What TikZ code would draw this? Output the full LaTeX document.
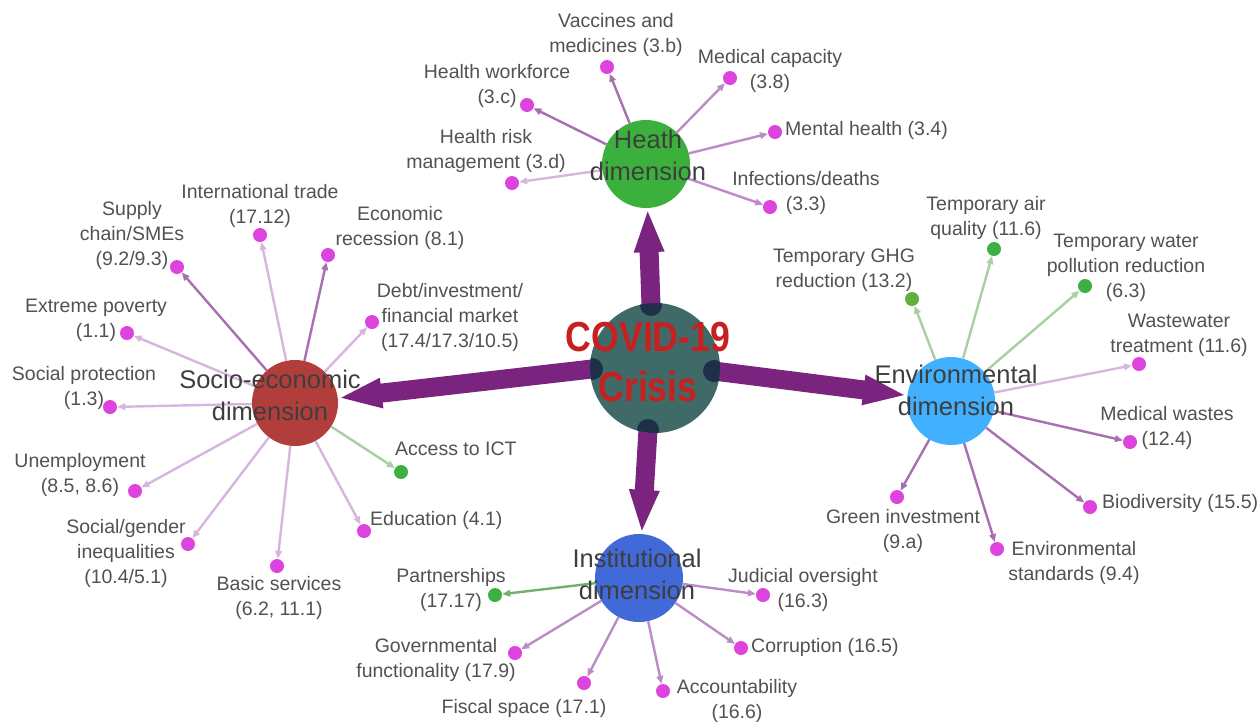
\documentclass[tikz,border=0pt]{standalone}
\usepackage{fontspec}
\setmainfont{Liberation Sans}
\usepackage{graphicx}
\usetikzlibrary{arrows.meta}
\definecolor{lblgray}{RGB}{82,82,82}
\definecolor{dimgray}{RGB}{62,62,62}
\definecolor{dotmag}{RGB}{221,68,221}
\definecolor{dotgrn}{RGB}{60,176,67}
\definecolor{dotolive}{RGB}{96,176,64}
\definecolor{edark}{RGB}{168,112,178}
\definecolor{emid}{RGB}{188,140,198}
\definecolor{elight}{RGB}{214,182,222}
\definecolor{egreenl}{RGB}{168,208,162}
\definecolor{egreend}{RGB}{112,178,104}
\definecolor{bigpurple}{RGB}{122,36,128}
\definecolor{ccenter}{RGB}{63,106,104}
\definecolor{cblob}{RGB}{30,48,72}
\definecolor{chealth}{RGB}{60,176,60}
\definecolor{csocio}{RGB}{178,62,60}
\definecolor{cenv}{RGB}{64,176,255}
\definecolor{cinst}{RGB}{65,105,215}
\definecolor{covidred}{RGB}{200,32,32}
\begin{document}
\begin{tikzpicture}[x=1pt,y=-1pt,
  dimnode/.style={circle, inner sep=0pt, minimum size=88pt},
  dotm/.style={circle, fill=dotmag, inner sep=0pt, minimum size=14pt},
  dotg/.style={circle, fill=dotgrn, inner sep=0pt, minimum size=14pt},
  dotgo/.style={circle, fill=dotolive, inner sep=0pt, minimum size=14pt},
  lbl/.style={font=\fontsize{19.5}{25}\selectfont, text=lblgray, align=center, inner sep=0pt, anchor=north},
  lblw/.style={font=\fontsize{19.5}{25}\selectfont, text=lblgray, inner sep=0pt, anchor=base west},
  dimlbl/.style={font=\fontsize{25.5}{32}\selectfont, text=dimgray, align=center, inner sep=0pt, anchor=north},
  edge/.style={line width=2.4pt, -{Triangle[length=8pt,width=6.5pt]}},
  edgedark/.style={edge, draw=edark, color=edark},
  edgemid/.style={edge, draw=emid, color=emid},
  edgelight/.style={edge, draw=elight, color=elight},
  edgegl/.style={edge, draw=egreenl, color=egreenl},
  edgegd/.style={edge, draw=egreend, color=egreend},
  bigarrow/.style={line width=19pt, draw=bigpurple, color=bigpurple, -{Triangle[length=44pt,width=27pt]}}
]
\useasboundingbox (0,0) rectangle (1260,721);
\fill[white] (0,0) rectangle (1260,721);

% dimension circles
\node[dimnode, fill=chealth, minimum size=88pt] (H) at (646,164) {};
\node[dimnode, fill=csocio, minimum size=86pt] (S) at (295,403) {};
\node[dimnode, fill=cenv, minimum size=88pt] (E) at (951,401) {};
\node[dimnode, fill=cinst, minimum size=88pt] (I) at (639,578) {};

% big arrows
\coordinate (cT) at (651,305);
\coordinate (cB) at (648,430);
\coordinate (cL) at (592,369);
\coordinate (cR) at (714,371);
\draw[bigarrow] (cT) -- (H);
\draw[bigarrow] (cB) -- (I);
\draw[bigarrow] (cL) -- (S);
\draw[bigarrow] (cR) -- (E);

% center circle
\node[circle, fill=ccenter, inner sep=0pt, minimum size=130pt] (C) at (655,368) {};
\begin{scope}
\clip (655,368) circle (65);
\fill[cblob] (cT) circle (11);
\fill[cblob] (cB) circle (11);
\fill[cblob] (cL) circle (11);
\fill[cblob] (cR) circle (11);
\end{scope}
\node[font=\fontsize{42}{50}\selectfont\bfseries, text=covidred, align=center, inner sep=0pt, anchor=north] (Ct) at (648,321.5) {\scalebox{0.85}[1]{COVID-19}\\\scalebox{0.85}[1]{Crisis}};

% ---------- Health leaves
\node[dotm] (hv) at (607,67) {};
\node[dotm] (hm) at (730,78) {};
\node[dotm] (hmh) at (775,132) {};
\node[dotm] (hi) at (770,207) {};
\node[dotm] (hw) at (527,105) {};
\node[dotm] (hr) at (512,183) {};
\draw[edgedark] (H) -- (hv);
\draw[edgemid] (H) -- (hm);
\draw[edgemid] (H) -- (hmh);
\draw[edgemid] (H) -- (hi);
\draw[edgedark] (H) -- (hw);
\draw[edgelight] (H) -- (hr);
\node[lbl] (hvl) at (616,12.7) {Vaccines and\\medicines (3.b)};
\node[lbl] (hml) at (770,48.7) {Medical capacity\\(3.8)};
\node[lblw] (hmhl) at (785,135) {Mental health (3.4)};
\node[lbl] (hil) at (806,170.7) {Infections/deaths\\(3.3)};
\node[lbl] (hwl) at (497,63.7) {Health workforce\\(3.c)};
\node[lbl] (hrl) at (486,128.7) {Health risk\\management (3.d)};

% ---------- Socio-economic leaves
\node[dotm] (ss) at (177,267) {};
\node[dotm] (st) at (260,235) {};
\node[dotm] (se) at (328,255) {};
\node[dotm] (sd) at (372,322) {};
\node[dotm] (sp) at (127,333) {};
\node[dotm] (sr) at (110,407) {};
\node[dotm] (su) at (135,491) {};
\node[dotm] (sg) at (188,544) {};
\node[dotm] (sb) at (277,566) {};
\node[dotm] (sed) at (364,531) {};
\node[dotg] (sa) at (401,472) {};
\draw[edgedark] (S) -- (ss);
\draw[edgelight] (S) -- (st);
\draw[edgedark] (S) -- (se);
\draw[edgelight] (S) -- (sd);
\draw[edgelight] (S) -- (sp);
\draw[edgelight] (S) -- (sr);
\draw[edgelight] (S) -- (su);
\draw[edgelight] (S) -- (sg);
\draw[edgelight] (S) -- (sb);
\draw[edgelight] (S) -- (sed);
\draw[edgegl] (S) -- (sa);
\node[lbl] (ssl) at (132,200.7) {Supply\\chain/SMEs\\(9.2/9.3)};
\node[lbl] (stl) at (260,183.7) {International trade\\(17.12)};
\node[lbl] (sel) at (400,205.7) {Economic\\recession (8.1)};
\node[lbl] (sdl) at (450,282.7) {Debt/investment/\\financial market\\(17.4/17.3/10.5)};
\node[lbl] (spl) at (96,298.7) {Extreme poverty\\(1.1)};
\node[lbl] (srl) at (84,365.7) {Social protection\\(1.3)};
\node[lbl] (sul) at (80,452.7) {Unemployment\\(8.5, 8.6)};
\node[lbl] (sgl) at (126,518.7) {Social/gender\\inequalities\\(10.4/5.1)};
\node[lbl] (sbl) at (279,575.7) {Basic services\\(6.2, 11.1)};
\node[lblw] (sedl) at (370,525) {Education (4.1)};
\node[lblw] (sal) at (395,455) {Access to ICT};

% ---------- Environmental leaves
\node[dotgo] (eg) at (912,299) {};
\node[dotg] (ea) at (994,249) {};
\node[dotg] (ew) at (1085,286) {};
\node[dotm] (ewt) at (1139,364) {};
\node[dotm] (em) at (1130,442) {};
\node[dotm] (eb) at (1090,507) {};
\node[dotm] (es) at (997,549) {};
\node[dotm] (ei) at (897,497) {};
\draw[edgegl] (E) -- (eg);
\draw[edgegl] (E) -- (ea);
\draw[edgegl] (E) -- (ew);
\draw[edgelight] (E) -- (ewt);
\draw[edgedark] (E) -- (em);
\draw[edgedark] (E) -- (eb);
\draw[edgedark] (E) -- (es);
\draw[edgedark] (E) -- (ei);
\node[lbl] (egl) at (844,248.7) {Temporary GHG\\reduction (13.2)};
\node[lbl] (eal) at (986,195.7) {Temporary air\\quality (11.6)};
\node[lbl] (ewl) at (1126,233.7) {Temporary water\\pollution reduction\\(6.3)};
\node[lbl] (ewtl) at (1179,313.7) {Wastewater\\treatment (11.6)};
\node[lbl] (eml) at (1167,405.7) {Medical wastes\\(12.4)};
\node[lblw] (ebl) at (1102,508) {Biodiversity (15.5)};
\node[lbl] (esl) at (1074,540.7) {Environmental\\standards (9.4)};
\node[lbl] (eil) at (903,508.7) {Green investment\\(9.a)};

% ---------- Institutional leaves
\node[dotg] (ip) at (495,595) {};
\node[dotm] (ij) at (763,595) {};
\node[dotm] (ig) at (515,653) {};
\node[dotm] (if) at (584,683) {};
\node[dotm] (ia) at (663,691) {};
\node[dotm] (ic) at (741,648) {};
\draw[edgegd] (I) -- (ip);
\draw[edgemid] (I) -- (ij);
\draw[edgemid] (I) -- (ig);
\draw[edgemid] (I) -- (if);
\draw[edgemid] (I) -- (ia);
\draw[edgemid] (I) -- (ic);
\node[lbl] (ipl) at (451,567.7) {Partnerships\\(17.17)};
\node[lbl] (ijl) at (803,567.7) {Judicial oversight\\(16.3)};
\node[lbl] (igl) at (436,637.7) {Governmental\\functionality (17.9)};
\node[lbl] (ifl) at (524,698.7) {Fiscal space (17.1)};
\node[lbl] (ial) at (737,678.7) {Accountability\\(16.6)};
\node[lblw] (icl) at (751,652) {Corruption (16.5)};

% dimension labels
\node[dimlbl] (Hl) at (648,129.4) {Heath\\dimension};
\node[dimlbl] (Sl) at (270,369.4) {Socio-economic\\dimension};
\node[dimlbl] (El) at (956,364.4) {Environmental\\dimension};
\node[dimlbl] (Il) at (637,548.4) {Institutional\\dimension};
\end{tikzpicture}
\end{document}
